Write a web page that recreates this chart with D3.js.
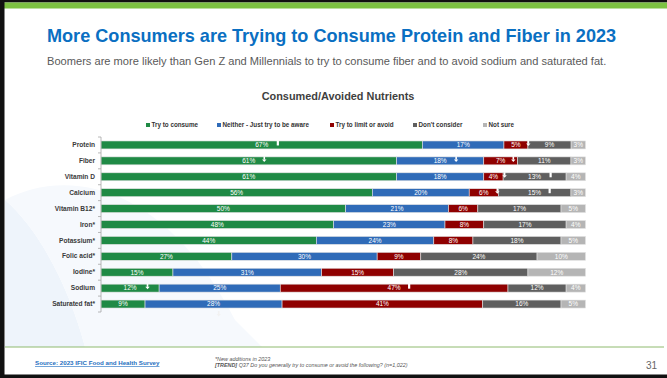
<!DOCTYPE html>
<html><head><meta charset="utf-8">
<script src="https://cdn.jsdelivr.net/npm/d3@7"></script>
<style>
html,body{margin:0;padding:0;background:#fff;}
svg{display:block;font-family:"Liberation Sans",Arial,sans-serif;}
</style></head>
<body>
<svg id="c" width="667" height="378"></svg>
<script>
const categories = ["Protein","Fiber","Vitamin D","Calcium","Vitamin B12*","Iron*","Potassium*","Folic acid*","Iodine*","Sodium","Saturated fat*"];
const seriesNames = ["Try to consume","Neither - Just try to be aware","Try to limit or avoid","Don't consider","Not sure"];
const tryToConsume = [67,61,61,56,50,48,44,27,15,12,9];
const neitherAware = [17,18,18,20,21,23,24,30,31,25,28];
const limitOrAvoid = [5,7,4,6,6,8,8,9,15,47,41];
const dontConsider = [9,11,13,15,17,17,18,24,28,12,16];
const notSure = [3,3,4,3,5,4,5,10,12,4,5];
const colors = ["#1f8a45","#2f6bb8","#8f0000","#5f5f5f","#b5b5b5"];
// significance arrows: category, position along bar (0-100), direction
const sigMarkers = [
  {cat:"Protein",pos:36.5,dir:"up"},{cat:"Protein",pos:88.2,dir:"down"},
  {cat:"Fiber",pos:33.7,dir:"down"},{cat:"Fiber",pos:73.3,dir:"down"},{cat:"Fiber",pos:85.1,dir:"down"},
  {cat:"Vitamin D",pos:83.3,dir:"down"},{cat:"Vitamin D",pos:92.8,dir:"up"},
  {cat:"Calcium",pos:81.8,dir:"down"},{cat:"Calcium",pos:92.6,dir:"up"},
  {cat:"Sodium",pos:9.6,dir:"down"},{cat:"Sodium",pos:63.6,dir:"up"}
];

const svg = d3.select("#c");
const W = 667, H = 378;

// background swooshes
svg.append("path").attr("d","M5,200 C40,230 70,290 85,347 L5,347 Z").attr("fill","#eef4fb");
svg.append("path").attr("d","M5,200 C60,170 160,175 235,320 L262,347 L85,347 C70,290 40,230 5,200 Z").attr("fill","#f6f9fd");

// frame
svg.append("rect").attr("x",0).attr("y",0).attr("width",W).attr("height",2.5).attr("fill","#111");
svg.append("rect").attr("x",0).attr("y",2.5).attr("width",W).attr("height",6).attr("fill","#7dc242");
svg.append("rect").attr("x",0).attr("y",0).attr("width",4.5).attr("height",H).attr("fill","#111");
svg.append("rect").attr("x",0).attr("y",374.5).attr("width",W).attr("height",3.5).attr("fill","#111");
svg.append("line").attr("x1",5).attr("x2",664).attr("y1",347).attr("y2",347).attr("stroke","#8fba6e").attr("stroke-width",1);

// titles
svg.append("text").attr("x",47).attr("y",42).attr("fill","#0a6fc2").attr("font-size",18.1).attr("font-weight","bold")
  .text("More Consumers are Trying to Consume Protein and Fiber in 2023");
svg.append("text").attr("x",47).attr("y",64.5).attr("fill","#595959").attr("font-size",11.1)
  .text("Boomers are more likely than Gen Z and Millennials to try to consume fiber and to avoid sodium and saturated fat.");
svg.append("text").attr("x",338).attr("y",100).attr("text-anchor","middle").attr("fill","#3f3f3f").attr("font-size",10.9).attr("font-weight","bold")
  .text("Consumed/Avoided Nutrients");

// legend
const legendX = [146,217,330,413,483];
const lg = svg.append("g");
seriesNames.forEach((s,i)=>{
  lg.append("rect").attr("x",legendX[i]).attr("y",123).attr("width",4).attr("height",4).attr("fill",colors[i]);
  lg.append("text").attr("x",legendX[i]+5.5).attr("y",127.3).attr("font-size",6.3).attr("font-weight","bold").attr("fill","#333").text(s);
});

// scales
const x0 = 101, x1 = 585.5;
const x = d3.scaleLinear().domain([0,100]).range([x0,x1]);
const y = d3.scaleBand().domain(categories).range([137,312]).paddingInner(0.5).paddingOuter(0.25);

const rows = categories.map((c,i)=>{
  const vals = [tryToConsume[i],neitherAware[i],limitOrAvoid[i],dontConsider[i],notSure[i]];
  const tot = d3.sum(vals);
  let acc = 0;
  return vals.map((v,k)=>{ const s = acc; acc += v; return {cat:c,k,v,start:s/tot*100,end:acc/tot*100}; });
});

const bars = svg.append("g");
rows.forEach(r=>{
  r.forEach(d=>{
    bars.append("rect").attr("x",x(d.start)).attr("y",y(d.cat)).attr("width",x(d.end)-x(d.start)).attr("height",y.bandwidth())
      .attr("fill",colors[d.k]).attr("stroke","#e3e3e3").attr("stroke-width",0.6);
    bars.append("text").attr("x",(x(d.start)+x(d.end))/2).attr("y",y(d.cat)+y.bandwidth()/2+2.3)
      .attr("text-anchor","middle").attr("font-size",6.5).attr("fill","#fff").text(d.v+"%");
  });
});

// sig arrows
const ar = svg.append("g").attr("fill","#fff");
sigMarkers.forEach(m=>{
  const cx = x(m.pos), top = y(m.cat)-0.5;
  if(m.dir==="down"){
    ar.append("rect").attr("x",cx-0.8).attr("y",top).attr("width",1.6).attr("height",3.2);
    ar.append("path").attr("d",`M${cx-2.2},${top+3} L${cx+2.2},${top+3} L${cx},${top+5.5} Z`);
  } else {
    ar.append("rect").attr("x",cx-1.1).attr("y",top).attr("width",2.2).attr("height",5);
  }
});
// arrow under saturated fat
svg.append("path").attr("fill","#f2f2f2")
  .attr("d",()=>{const cx=x(24.3), t=y("Saturated fat*")+y.bandwidth()+3; return `M${cx-0.8},${t} h1.6 v3 h1.4 l-2.2,2.5 l-2.2,-2.5 h1.4 Z`;});

// axis
const ax = svg.append("g").attr("transform",`translate(${x0},0)`)
  .call(d3.axisLeft(y).tickSize(0).tickPadding(6));
ax.select(".domain").remove();
ax.selectAll("text").attr("font-size",6.6).attr("font-weight","bold").attr("fill","#3a3a3a").attr("font-family","Liberation Sans, Arial, sans-serif");
svg.append("line").attr("x1",x0).attr("x2",x0).attr("y1",137).attr("y2",312).attr("stroke","#a6a6a6").attr("stroke-width",0.8);
const bounds = categories.map(c=>y(c)-y.step()*y.paddingInner()/2).concat([y(categories[categories.length-1])+y.bandwidth()+y.step()*y.paddingInner()/2]);
bounds.forEach(b=>{
  svg.append("line").attr("x1",x0-3).attr("x2",x0).attr("y1",b).attr("y2",b).attr("stroke","#a6a6a6").attr("stroke-width",0.8);
});

// footer
svg.append("text").attr("x",35).attr("y",365).attr("font-size",6.2).attr("font-weight","bold").attr("fill","#1f6fc0")
  .attr("text-decoration","underline").text("Source: 2023 IFIC Food and Health Survey");
svg.append("text").attr("x",215).attr("y",361).attr("font-size",5.4).attr("font-style","italic").attr("fill","#555").text("*New additions in 2023");
const t2 = svg.append("text").attr("x",215).attr("y",367).attr("font-size",5.4).attr("font-style","italic").attr("fill","#555");
t2.append("tspan").attr("font-weight","bold").text("[TREND]");
t2.append("tspan").text(" Q37 Do you generally try to consume or avoid the following? (n=1,022)");
svg.append("text").attr("x",657).attr("y",369).attr("text-anchor","end").attr("font-size",10).attr("fill","#666").text("31");
</script>
</body></html>
